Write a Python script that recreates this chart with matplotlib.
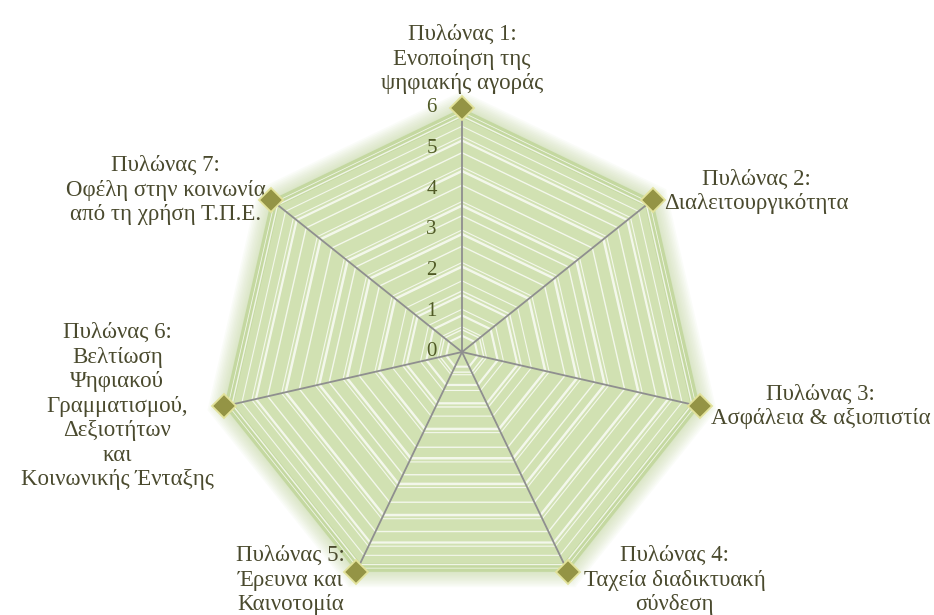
import numpy as np
import matplotlib
matplotlib.use("Agg")
import matplotlib.pyplot as plt

# data
labels = [
    "Πυλώνας 1:\nΕνοποίηση της\nψηφιακής αγοράς",
    "Πυλώνας 2:\nΔιαλειτουργικότητα",
    "Πυλώνας 3:\nΑσφάλεια & αξιοπιστία",
    "Πυλώνας 4:\nΤαχεία διαδικτυακή\nσύνδεση",
    "Πυλώνας 5:\nΈρευνα και\nΚαινοτομία",
    "Πυλώνας 6:\nΒελτίωση\nΨηφιακού\nΓραμματισμού,\nΔεξιοτήτων\nκαι\nΚοινωνικής Ένταξης",
    "Πυλώνας 7:\nΟφέλη στην κοινωνία\nαπό τη χρήση Τ.Π.Ε.",
]
values = [6, 6, 6, 6, 6, 6, 6]
ticks = [0, 1, 2, 3, 4, 5, 6]

# label placement (offset in points from each vertex)
label_pos = [
    ((0, 10), "center", "bottom"),
    ((8, 6), "left", "center"),
    ((8, 0), "left", "center"),
    ((77, -6), "center", "center"),
    ((-47, -6), "center", "center"),
    ((-77, 0), "center", "center"),
    ((-4, 7), "right", "center"),
]

plt.rcParams['font.family'] = ['Liberation Serif', 'DejaVu Serif']
txt_color = "#4a4a2e"

n = len(values)
angles = np.linspace(0, 2 * np.pi, n, endpoint=False)
ang_c = np.append(angles, angles[0])
vals_c = np.append(values, values[0])

fig = plt.figure(figsize=(9.34, 6.15), dpi=100)
ax = fig.add_axes([0.2334, 0.0309, 0.5225, 0.7935], projection="polar")
ax.set_theta_zero_location("N")
ax.set_theta_direction(-1)
ax.set_ylim(0, 6)
ax.patch.set_visible(False)
ax.spines["polar"].set_visible(False)
ax.grid(False)
ax.set_xticks([])
ax.set_yticks([])

# soft glow outside the polygon
for s in np.linspace(1.07, 1.005, 10):
    ax.fill(ang_c, vals_c * s, color="#b9cf8f", alpha=0.06, lw=0, clip_on=False, zorder=1)

# main fill and darker rim
ax.fill(ang_c, vals_c, color="#c4d8a0", lw=0, zorder=2)
ax.fill(ang_c, vals_c * 0.96, color="#d1e1b2", lw=0, zorder=2)

# light banding lines inside the fill
bands = [0.4, 0.55, 0.62, 0.9, 1.05, 1.4, 1.5, 1.75, 2.1, 2.2, 2.6, 2.9, 3.0,
         3.35, 3.6, 3.7, 4.1, 4.45, 4.55, 4.9, 5.2, 5.3, 5.55, 5.8, 5.9]
widths = [1.5, 1.0, 0.8, 1.6, 0.8, 1.6, 1.0, 0.8, 1.8, 0.8, 1.0, 1.8, 0.8,
          1.0, 1.8, 0.8, 1.0, 1.8, 0.8, 1.0, 1.6, 0.8, 0.8, 1.0, 0.6]
for b, w in zip(bands, widths):
    ax.plot(ang_c, np.full(n + 1, b), color="white", lw=w, alpha=0.75, zorder=3)

# spokes
for a, v in zip(angles, values):
    ax.plot([a, a], [0, v], color="#8f8f8f", lw=1.3, zorder=4)

# value tick labels
for t in ticks:
    ax.annotate(str(t), xy=(0, t), xytext=(-22, 0), textcoords="offset points",
                ha="center", va="center", fontsize=15, color="#505a26", zorder=6,
                annotation_clip=False)

# markers
ax.plot(angles, values, ls="none", marker="D", ms=12.5, mfc="#949445",
        mec="#e2e29a", mew=1.3, zorder=5, clip_on=False)

# axis labels
for a, v, lab, (off, ha, va) in zip(angles, values, labels, label_pos):
    ax.annotate(lab, xy=(a, v), xytext=off, textcoords="offset points",
                ha=ha, va=va, multialignment="center", fontsize=16.5,
                color=txt_color, linespacing=1.22, annotation_clip=False)

fig.savefig("out.png", dpi=100)
